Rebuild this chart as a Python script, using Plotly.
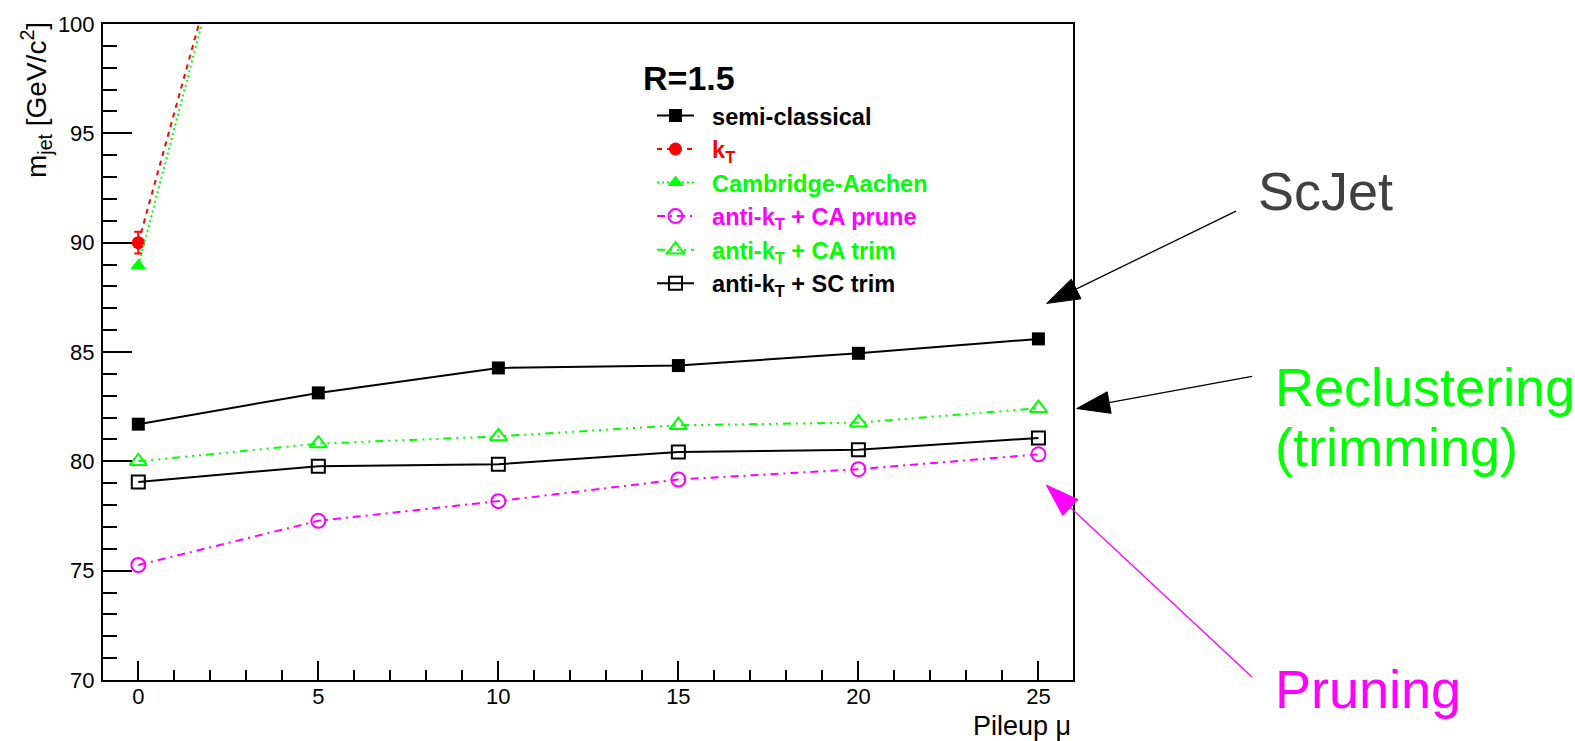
import plotly.graph_objects as go
import math

# ---------------- data ----------------
pileup = [0, 5, 10, 15, 20, 25]
semi_classical = [81.70, 83.13, 84.27, 84.38, 84.94, 85.60]
ca_trim = [80.00, 80.81, 81.14, 81.65, 81.77, 82.43]
sc_trim = [79.06, 79.78, 79.87, 80.43, 80.53, 81.07]
ca_prune = [75.26, 77.28, 78.18, 79.17, 79.64, 80.32]

kt_pileup = [0, 5]
kt_mass = [90.0, 119.7]
kt_err = [0.5, 0.5]
ca_pileup = [0, 5]
ca_mass = [88.95, 120.3]

x_ticks = [0, 5, 10, 15, 20, 25]
y_ticks = [70, 75, 80, 85, 90, 95, 100]

# ---------------- layout geometry ----------------
W_PX, H_PX = 1575, 741
L, R, T, B = 103, 1073, 21, 680
FONT = "Liberation Sans, Arial, Helvetica, sans-serif"

GREEN = "#00ff00"
MAGENTA = "#ff00ff"
RED = "#ff0000"


def px(x):
    return (x - L) / (R - L)


def py(y):
    return (B - y) / (B - T)


fig = go.Figure()

# semi-classical
fig.add_trace(go.Scatter(
    x=pileup, y=semi_classical, mode="lines+markers",
    name="\u00a0\u00a0semi-classical", legendgroup="g1",
    line=dict(color="black", width=2),
    marker=dict(symbol="square", size=13, color="black"),
))
# kT
fig.add_trace(go.Scatter(
    x=kt_pileup, y=kt_mass, mode="lines+markers",
    name='\u00a0\u00a0<span style="color:#ff0000">k<sub>T</sub></span>', legendgroup="g2",
    line=dict(color=RED, width=2, dash="5px,5px"),
    marker=dict(symbol="circle", size=13, color=RED),
    error_y=dict(type="data", array=kt_err, color=RED, thickness=2, width=4),
))
# Cambridge-Aachen
fig.add_trace(go.Scatter(
    x=ca_pileup, y=ca_mass, mode="lines+markers",
    name='\u00a0\u00a0<span style="color:#00ff00">Cambridge-Aachen</span>', legendgroup="g3",
    line=dict(color=GREEN, width=2, dash="2px,3px"),
    marker=dict(symbol="triangle-up", size=14, color=GREEN),
))
# anti-kT + CA prune
fig.add_trace(go.Scatter(
    x=pileup, y=ca_prune, mode="lines+markers",
    name='\u00a0\u00a0<span style="color:#ff00ff">anti-k<sub>T</sub> + CA prune</span>', legendgroup="g4",
    line=dict(color=MAGENTA, width=2, dash="8px,5px,2px,5px"),
    marker=dict(symbol="circle-open", size=14, color=MAGENTA, line=dict(width=2, color=MAGENTA)),
))
# anti-kT + CA trim
fig.add_trace(go.Scatter(
    x=pileup, y=ca_trim, mode="lines+markers",
    name='\u00a0\u00a0<span style="color:#00ff00">anti-k<sub>T</sub> + CA trim</span>', legendgroup="g5",
    line=dict(color=GREEN, width=2, dash="8px,5px,2px,5px,2px,5px,2px,5px"),
    marker=dict(symbol="triangle-up-open", size=15, color=GREEN, line=dict(width=2, color=GREEN)),
))
# anti-kT + SC trim
fig.add_trace(go.Scatter(
    x=pileup, y=sc_trim, mode="lines+markers",
    name="\u00a0\u00a0anti-k<sub>T</sub> + SC trim", legendgroup="g6",
    line=dict(color="black", width=2),
    marker=dict(symbol="square-open", size=13, color="black", line=dict(width=2, color="black")),
))

# ---------------- arrows (annotation graphics) ----------------
shapes = []


def arrow(tail, tip, color, head_len=33, head_w=22, lw=1.3):
    x0, y0 = tail
    x1, y1 = tip
    d = math.hypot(x0 - x1, y0 - y1)
    ux, uy = (x0 - x1) / d, (y0 - y1) / d
    bx, by = x1 + ux * head_len, y1 + uy * head_len
    nx, ny = -uy, ux
    c1 = (bx + nx * head_w / 2, by + ny * head_w / 2)
    c2 = (bx - nx * head_w / 2, by - ny * head_w / 2)
    shapes.append(dict(type="line", xref="paper", yref="paper",
                       x0=px(x0), y0=py(y0), x1=px(bx - ux * 3), y1=py(by - uy * 3),
                       line=dict(color=color, width=lw)))
    path = "M {:.5f},{:.5f} L {:.5f},{:.5f} L {:.5f},{:.5f} Z".format(
        px(x1), py(y1), px(c1[0]), py(c1[1]), px(c2[0]), py(c2[1]))
    shapes.append(dict(type="path", xref="paper", yref="paper", path=path,
                       fillcolor=color, line=dict(color=color, width=1)))


arrow((1236, 209), (1046.5, 301.7), "black")
arrow((1252, 375), (1076.7, 407.3), "black")
arrow((1252, 677), (1046.3, 484.2), MAGENTA)

annotations = [
    dict(text="ScJet", x=px(1256), y=py(189), xref="paper", yref="paper",
         xanchor="left", yanchor="middle", showarrow=False,
         font=dict(family=FONT, size=54, color="#404040")),
    dict(text="Reclustering", x=px(1273), y=py(386), xref="paper", yref="paper",
         xanchor="left", yanchor="middle", showarrow=False,
         font=dict(family=FONT, size=54, color=GREEN)),
    dict(text="(trimming)", x=px(1273), y=py(446), xref="paper", yref="paper",
         xanchor="left", yanchor="middle", showarrow=False,
         font=dict(family=FONT, size=54, color=GREEN)),
    dict(text="Pruning", x=px(1273), y=py(689), xref="paper", yref="paper",
         xanchor="left", yanchor="middle", showarrow=False,
         font=dict(family=FONT, size=54, color=MAGENTA)),
    dict(text="<b>R=1.5</b>", x=px(641), y=py(75), xref="paper", yref="paper",
         xanchor="left", yanchor="middle", showarrow=False,
         font=dict(family=FONT, size=34, color="black")),
    dict(text="m<sub>jet</sub> [GeV/c<sup>2</sup>]", x=px(36), y=py(17),
         xref="paper", yref="paper", xanchor="center", yanchor="top",
         textangle=-90, showarrow=False,
         font=dict(family=FONT, size=28, color="black")),
    dict(text="Pileup \u03bc", x=px(1073), y=py(726.7), xref="paper", yref="paper",
         xanchor="right", yanchor="middle", showarrow=False,
         font=dict(family=FONT, size=27, color="black")),
]

fig.update_layout(
    width=W_PX, height=H_PX,
    margin=dict(l=L, r=W_PX - R, t=T, b=H_PX - B, pad=0),
    paper_bgcolor="white", plot_bgcolor="white",
    font=dict(family=FONT, color="black"),
    showlegend=True,
    legend=dict(
        x=px(652), xanchor="left", y=py(91), yanchor="top",
        bgcolor="rgba(0,0,0,0)", borderwidth=0,
        font=dict(family=FONT, size=23.5, color="black", weight="bold"),
        itemwidth=37, traceorder="grouped", tracegroupgap=0,
    ),
    shapes=shapes,
    annotations=annotations,
    xaxis=dict(
        range=[-0.98, 25.96], tickmode="array", tickvals=x_ticks,
        ticks="inside", ticklen=19, tickwidth=2, tickcolor="black",
        minor=dict(dtick=1, tick0=0, ticks="inside", ticklen=10, tickwidth=2, tickcolor="black"),
        showline=True, linewidth=2, linecolor="black", mirror=True,
        showgrid=False, zeroline=False,
        tickfont=dict(family=FONT, size=22, color="black"),
        ticklabelstandoff=-4,
    ),
    yaxis=dict(
        range=[70, 100], tickmode="array", tickvals=y_ticks,
        ticks="inside", ticklen=29, tickwidth=2, tickcolor="black",
        minor=dict(dtick=1, tick0=70, ticks="inside", ticklen=14, tickwidth=2, tickcolor="black"),
        showline=True, linewidth=2, linecolor="black", mirror=True,
        showgrid=False, zeroline=False,
        tickfont=dict(family=FONT, size=22, color="black"),
        ticklabelstandoff=2,
    ),
)

fig.write_html("out.html")
